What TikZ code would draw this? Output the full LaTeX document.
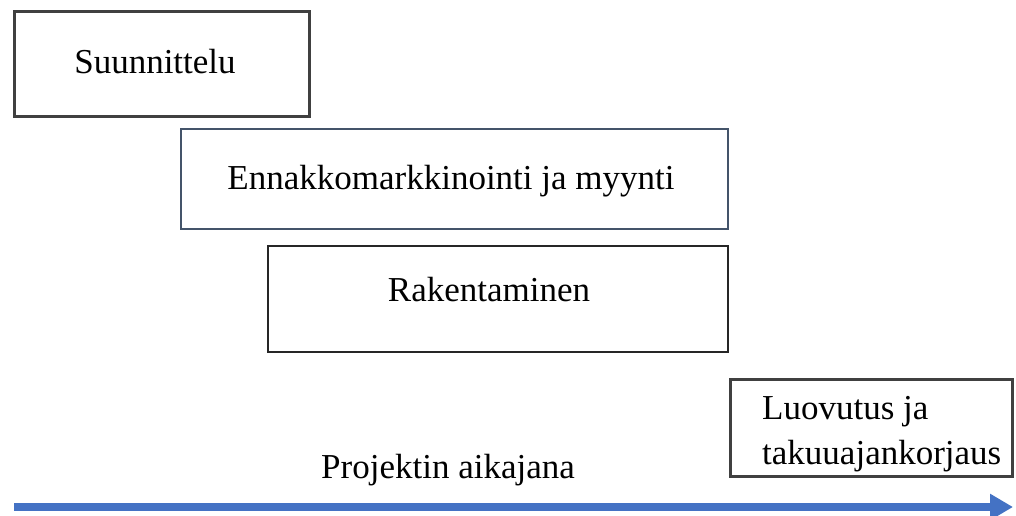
\documentclass[tikz,border=0pt]{standalone}
\usepackage{fontspec}
\setmainfont{Liberation Serif}
\usetikzlibrary{arrows.meta,calc}
\definecolor{boxgray}{HTML}{404040}
\definecolor{boxslate}{HTML}{44546A}
\definecolor{boxdark}{HTML}{262626}
\definecolor{arrowblue}{HTML}{4472C4}
\begin{document}
\begin{tikzpicture}[x=1pt,y=-1pt,
  phase/.style={draw, line width=3pt, fill=white, inner sep=0pt, font=\fontsize{35}{45}\selectfont},
  lbl/.style={inner sep=0pt, font=\fontsize{35}{45}\selectfont},
  timeline/.style={arrowblue, line width=8pt, -{Triangle[length=23pt,width=25pt]}}]
\useasboundingbox[fill=white] (0,0) rectangle (1016,515);
\node[phase, draw=boxgray, minimum width=295pt, minimum height=105pt] (suun) at (162,64) {};
\node[lbl] (suuntxt) at (155,62) {Suunnittelu};
\node[phase, draw=boxslate, line width=2.5pt, minimum width=547pt, minimum height=100pt] (enna) at (454.5,179) {};
\node[lbl] (ennatxt) at (451,181) {Ennakkomarkkinointi ja myynti};
\node[phase, draw=boxdark, line width=2.5pt, minimum width=460pt, minimum height=106pt] (rake) at (498,299) {};
\node[lbl] (raketxt) at (489,290) {Rakentaminen};
\node[phase, draw=boxgray, minimum width=282pt, minimum height=97pt] (luov) at (871.5,428) {};
\node[lbl, anchor=west, align=left] (luovtxt) at (762,434) {Luovutus ja\\takuuajankorjaus};
\node[lbl] (aika) at (448,470) {Projektin aikajana};
\coordinate (tstart) at (14,507);
\coordinate (tend) at (1013,507);
\draw[timeline] (tstart) -- (tend);
\end{tikzpicture}
\end{document}
